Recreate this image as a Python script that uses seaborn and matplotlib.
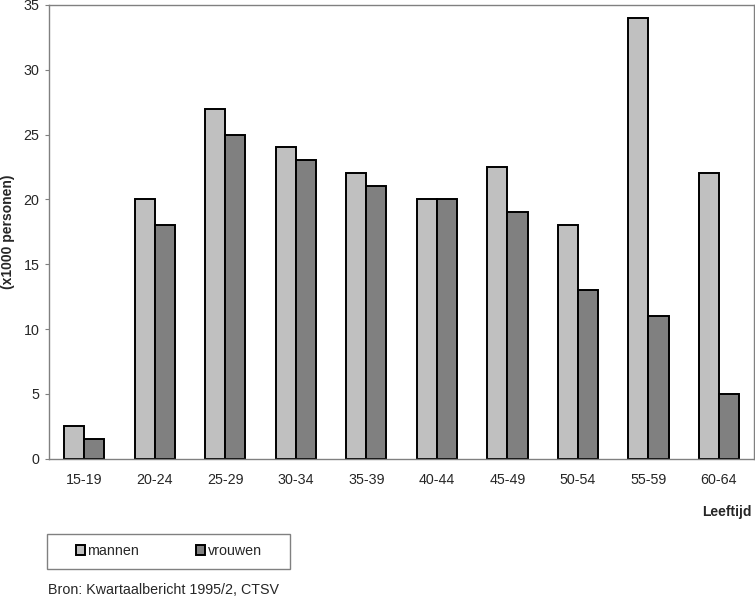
import matplotlib

matplotlib.use("Agg")
import matplotlib.pyplot as plt
import pandas as pd
import seaborn as sns
from matplotlib.patches import Rectangle

age_groups = ["15-19", "20-24", "25-29", "30-34", "35-39",
              "40-44", "45-49", "50-54", "55-59", "60-64"]
mannen = [2.5, 20, 27, 24, 22, 20, 22.5, 18, 34, 22]
vrouwen = [1.5, 18, 25, 23, 21, 20, 19, 13, 11, 5]
series = ["mannen", "vrouwen"]
colors = {"mannen": "#c0c0c0", "vrouwen": "#808080"}

df = pd.DataFrame({
    "leeftijd": age_groups * 2,
    "geslacht": ["mannen"] * len(mannen) + ["vrouwen"] * len(vrouwen),
    "aantal": mannen + vrouwen,
})

sns.set_theme(style="white")
plt.rcParams["font.family"] = ["Liberation Sans", "DejaVu Sans"]

fig = plt.figure(figsize=(7.55, 5.99), dpi=100)
ax = fig.add_axes([0.065, 0.234, 0.934, 0.758])

sns.barplot(
    data=df, x="leeftijd", y="aantal", hue="geslacht", hue_order=series,
    order=age_groups, palette=colors, width=0.57, edgecolor="black",
    linewidth=1.4, saturation=1, ax=ax,
)

ax.set_ylim(0, 35)
ax.set_xlim(-0.5, len(age_groups) - 0.5)
ax.set_yticks(range(0, 36, 5))
ax.tick_params(axis="y", which="major", left=True, length=3, width=0.8,
               color="#808080", labelsize=10.3, pad=4)
ax.tick_params(axis="x", bottom=False, length=0, labelsize=10.3, pad=10.5)
for spine in ax.spines.values():
    spine.set_color("#808080")
    spine.set_linewidth(1.0)

ax.set_xlabel("")
ax.set_ylabel("(x1000 personen)", fontsize=10, fontweight="bold")
ax.yaxis.set_label_coords(-0.049, 0.5)
fig.text(0.996, 0.145, "Leeftijd", ha="right", va="center",
         fontsize=10, fontweight="bold")

# legend: frame drawn separately so it can be wider than its entries
fig.patches.append(Rectangle((0.0623, 0.050), 0.322, 0.0584,
                             transform=fig.transFigure, facecolor="white",
                             edgecolor="#808080", linewidth=1.0))
handles, labels = ax.get_legend_handles_labels()
ax.get_legend().remove()
fig.legend(
    handles, labels, loc="center left", ncol=2, frameon=False,
    bbox_to_anchor=(0.1, 0.0801), borderpad=0, borderaxespad=0,
    fontsize=10.3, handlelength=0.63, handleheight=0.63,
    handletextpad=0.2, columnspacing=4.0,
)

fig.text(0.064, 0.015, "Bron: Kwartaalbericht 1995/2, CTSV", fontsize=10.3,
         ha="left", va="center")

fig.savefig("out.png", dpi=100)
plt.close(fig)
